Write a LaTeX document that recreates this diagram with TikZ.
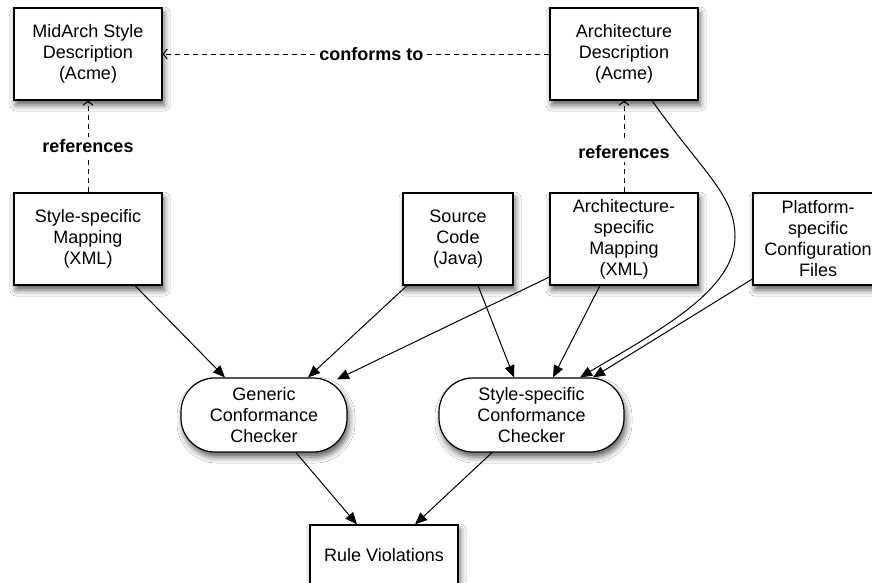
\documentclass[tikz,border=0pt]{standalone}
\usepackage{fontspec}
\setmainfont{Liberation Sans}
\usetikzlibrary{arrows.meta,shadows.blur,calc}
\tikzset{
  base/.style={draw=black, line width=1.2pt, fill=white, align=center,
    font=\fontsize{18}{21}\selectfont, inner sep=0pt,
    blur shadow={shadow xshift=2pt, shadow yshift=-5pt, shadow blur radius=6pt, shadow opacity=65}},
  boxnode/.style={base, minimum width=148pt, minimum height=92pt},
  checker/.style={base, rounded corners=34pt, minimum height=74pt},
  flow/.style={line width=1pt, -{Triangle[length=12pt,width=10pt]}},
  refline/.style={line width=1pt, dash pattern=on 5pt off 4pt, -{Straight Barb[length=4pt,width=10pt,line width=1pt]}},
  lbl/.style={font=\bfseries\fontsize{18}{21}\selectfont, fill=white, inner sep=3pt}
}
\begin{document}
\begin{tikzpicture}[x=1pt,y=-1pt]
\useasboundingbox (0,0) rectangle (872,582);
\fill[white] (0,0) rectangle (872,582);
% nodes
\node[boxnode] (mid) at (88,54) {MidArch Style\\Description\\(Acme)};
\node[boxnode] (ad) at (624,54) {Architecture\\Description\\(Acme)};
\node[boxnode] (ssm) at (88,239) {Style-specific\\Mapping\\(XML)};
\node[boxnode, minimum width=110pt] (src) at (458,239) {Source\\Code\\(Java)};
\node[boxnode] (asm) at (624,239) {Architecture-\\specific\\Mapping\\(XML)};
\node[boxnode, minimum width=130pt] (pf) at (818,239) {Platform-\\specific\\Configuration\\Files};
\node[checker, minimum width=166pt] (gcc) at (264,415) {Generic\\Conformance\\Checker};
\node[checker, minimum width=185pt] (ssc) at (531.5,415) {Style-specific\\Conformance\\Checker};
\node[boxnode, minimum height=80pt] (rv) at (384,565) {};
\node[font=\fontsize{18}{21}\selectfont, anchor=base] (rvt) at (384,561) {Rule Violations};
% dashed relations
\draw[refline] (ad.west) -- node[lbl, pos=0.46] {conforms to} (mid.east);
\draw[refline] (ssm.north) -- node[lbl, pos=0.5] {references} (mid.south);
\draw[refline] (asm.north) -- node[lbl, pos=0.44] {references} (ad.south);
% flows into generic checker
\draw[flow] ([xshift=47pt]ssm.south) -- ([xshift=-39pt]gcc.north);
\draw[flow] ([xshift=-51pt]src.south) -- ([xshift=44pt]gcc.north);
\draw[flow] ([yshift=-38pt]asm.west) -- ([xshift=73pt,yshift=-2pt]gcc.north);
% flows into style-specific checker
\draw[flow] ([xshift=20pt]src.south) -- ([xshift=-17.5pt]ssc.north);
\draw[flow] ([xshift=-24pt]asm.south) -- ([xshift=21.5pt]ssc.north);
\draw[flow] ([xshift=28pt]ad.south) .. controls (705,175) and (735,195) .. (735,237)
   .. controls (735,290) and (660,330) .. ([xshift=48.5pt]ssc.north);
\draw[flow] ([yshift=-40pt]pf.west) -- ([xshift=61.5pt]ssc.north);
% to rule violations
\draw[flow] ([xshift=32pt]gcc.south) -- ([xshift=-27pt]rv.north);
\draw[flow] ([xshift=-39.5pt]ssc.south) -- ([xshift=31pt]rv.north);
\end{tikzpicture}
\end{document}
